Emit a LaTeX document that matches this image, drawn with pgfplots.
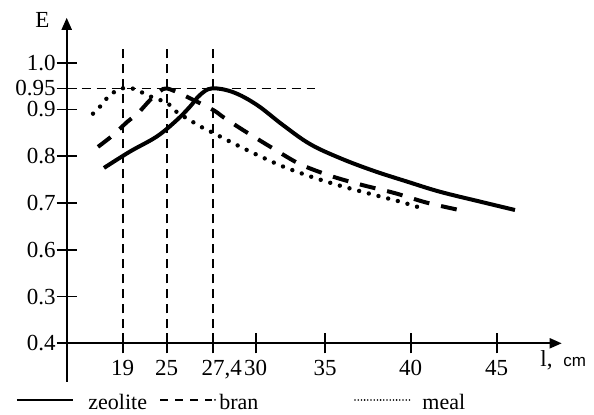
\documentclass[border=0pt]{standalone}
\usepackage{fontspec}
\setmainfont{Liberation Serif}
\setsansfont{Liberation Sans}
\usepackage{pgfplots}
\pgfplotsset{compat=1.18}
\usetikzlibrary{arrows.meta}

\begin{document}
\begin{tikzpicture}
% x runs in drawing positions (the original axis is not to scale), ticks relabelled
\begin{axis}[
  x=0.5pt, y=233.85pt,
  xmin=66.7, xmax=561.7, ymin=0.4, ymax=1.096,
  axis lines=left,
  axis line style={line width=1pt, -{Triangle[length=6pt,width=5pt]}},
  clip=false,
  xtick={122.7,166.7,212.7,255.7,325,410.7,496.7},
  xticklabels={19,25,{\hspace*{9pt}\raisebox{2pt}{27,4}},30,35,40,45},
  ytick={0.4,0.5,0.6,0.7,0.8,0.9,0.945,1.0},
  yticklabels={0.4,0.3,0.6,0.7,0.8,0.9,0.95,1.0},
  tick align=center, major tick length=10pt,
  tick style={line width=0.9pt, black},
  ticklabel style={font=\fontsize{11.5}{13}\selectfont},
  yticklabel style={xshift=3pt},
  /pgf/number format/assume math mode=true,
  refl/.style={black, line width=0.8pt, dash pattern=on 4.5pt off 3pt},
]
% reference lines
\addplot[refl] coordinates {(122.7,0.4) (122.7,1.031)};
\addplot[refl] coordinates {(166.7,0.4) (166.7,1.031)};
\addplot[refl] coordinates {(212.7,0.4) (212.7,1.031)};
\addplot[refl] coordinates {(66.7,0.945) (315,0.945)};

% zeolite
\addplot[black, line width=2pt, smooth, tension=0.6] coordinates {
(104,0.775) (130,0.810) (156.7,0.842) (176.7,0.877) (190,0.906) (200,0.931)
(212,0.945) (233,0.937) (256.7,0.910) (283.3,0.866) (310,0.826) (340,0.796)
(373.3,0.769) (406.7,0.746) (440,0.724) (480,0.703) (515,0.685)};
% bran
\addplot[black, line width=2pt, dash pattern=on 8pt off 6pt, smooth, tension=0.5] coordinates {
(98,0.820) (113,0.845) (127,0.873) (138,0.892) (150,0.920) (160,0.939)
(167,0.945) (185,0.929) (213,0.899) (223,0.884) (243,0.856) (272,0.818)
(300,0.783) (332,0.757) (363,0.738) (395,0.721) (428,0.700) (468,0.681)};
% meal
\addplot[black, line width=2.2pt, line cap=round, dash pattern=on 0pt off 5pt, smooth, tension=0.5] coordinates {
(93,0.891) (100,0.906) (110,0.931) (122,0.945) (134,0.944) (150,0.928)
(167,0.914) (177,0.894) (190,0.877) (200,0.864) (213,0.850) (233,0.828)
(257,0.803) (283,0.778) (310,0.757) (340,0.737) (380,0.714) (400,0.703) (423,0.688)};

% y axis continues below the x axis
\draw[line width=1pt] (axis cs:66.7,0.4) -- (axis cs:66.7,0.317);
\node[font=\fontsize{11.5}{13}\selectfont] at (axis cs:42.5,1.091) {E};
\node[anchor=base west, font=\fontsize{11.5}{13}\selectfont, inner sep=0pt] at (axis cs:540,0.35) {l,};
\node[anchor=base west, font=\sffamily\fontsize{8.5}{9}\selectfont, inner sep=0pt] at (axis cs:563,0.35) {cm};

% legend
\draw[line width=1.1pt] (axis cs:17,0.2788) -- (axis cs:73,0.2788);
\node[anchor=base west, inner sep=0pt, font=\fontsize{11}{12}\selectfont] at (axis cs:88,0.2595) {zeolite};
\draw[line width=1.1pt, dash pattern=on 4pt off 3.5pt] (axis cs:160,0.2788) -- (axis cs:212,0.2788);
\fill (axis cs:215,0.2788) circle (0.5pt);
\node[anchor=base west, inner sep=0pt, font=\fontsize{11}{12}\selectfont] at (axis cs:219,0.2595) {bran};
\draw[line width=0.9pt, line cap=round, dash pattern=on 0pt off 1.6pt] (axis cs:355,0.2788) -- (axis cs:412,0.2788);
\node[anchor=base west, inner sep=0pt, font=\fontsize{11}{12}\selectfont] at (axis cs:422,0.2595) {meal};

% frame of the whole picture
\path (axis cs:0,0.2488) rectangle (axis cs:594,1.134);
\end{axis}
\end{tikzpicture}
\end{document}
